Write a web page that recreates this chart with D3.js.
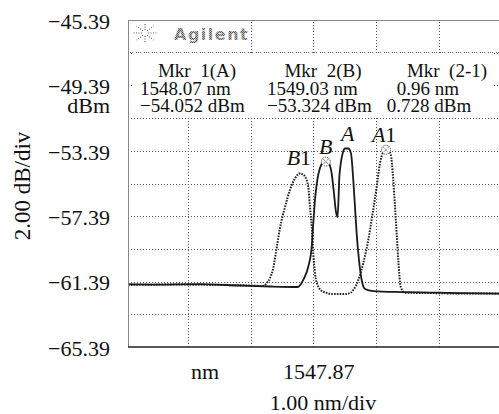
<!DOCTYPE html>
<html>
<head>
<meta charset="utf-8">
<script src="https://cdn.jsdelivr.net/npm/d3@7"></script>
<style>
	body { margin: 0; background: #fff; }
	svg { display: block; }
	text { font-family: "Liberation Serif", "DejaVu Serif", serif; fill: #111; }
</style>
</head>
<body>
<div id="chart-area"></div>
<script>
// spectrum (nm, dBm)
const wlAB = [1544.915, 1545.425, 1546.063, 1546.70, 1547.18, 1547.626, 1547.71, 1547.79, 1547.845,
	1547.87, 1547.897, 1547.934, 1547.977, 1548.025, 1548.07, 1548.109, 1548.163, 1548.20, 1548.232,
	1548.256, 1548.272, 1548.283, 1548.299, 1548.339, 1548.376, 1548.428, 1548.471, 1548.508, 1548.535,
	1548.562, 1548.599, 1548.642, 1548.695, 1548.827, 1549.28, 1549.731, 1550.21, 1550.832]
const dbAB = [-61.54, -61.57, -61.55, -61.63, -61.69, -61.72, -61.29, -60.48, -59.26,
	-57.82, -56.40, -55.18, -54.44, -54.11, -54.05, -54.11, -54.77, -55.99, -57.13,
	-57.44, -56.40, -55.18, -54.44, -53.54, -53.25, -53.25, -53.54, -55.18, -56.81,
	-58.44, -60.07, -61.29, -61.84, -61.97, -62.03, -62.06, -62.09, -62.12]

const wlB1A1 = [1544.915, 1545.585, 1546.382, 1546.86, 1547.052, 1547.127, 1547.18, 1547.232, 1547.286,
	1547.339, 1547.419, 1547.498, 1547.578, 1547.626, 1547.658, 1547.69, 1547.738, 1547.79, 1547.817,
	1547.845, 1547.87, 1547.897, 1547.95, 1548.03, 1548.189, 1548.376, 1548.471, 1548.508, 1548.588,
	1548.667, 1548.747, 1548.817, 1548.881, 1548.934, 1548.986, 1549.03, 1549.069, 1549.104, 1549.146,
	1549.173, 1549.20, 1549.226, 1549.264, 1549.332, 1549.731, 1550.21, 1550.832]
const dbB1A1 = [-61.60, -61.57, -61.60, -61.63, -61.66, -61.49, -61.17, -60.56, -59.33,
	-58.11, -56.83, -55.79, -55.07, -54.84, -54.77, -54.81, -54.97, -55.59, -56.81,
	-58.04, -59.66, -60.88, -61.70, -62.01, -62.15, -62.15, -62.06, -61.90, -61.29,
	-60.27, -58.85, -57.21, -55.59, -54.15, -53.46, -53.32, -53.37, -53.59, -55.18,
	-56.81, -58.44, -60.07, -61.70, -62.07, -62.09, -62.12, -62.12]

// axis labels / grid
const yTickValues = [-45.39, -49.39, -53.39, -57.39, -61.39, -65.39]
const yGridValues = [-63.39, -61.39, -59.39, -57.39, -55.39, -53.39, -51.39, -49.39, -47.39]
const xGridValues = [1545.87, 1546.87, 1547.87, 1548.87, 1549.87]
const xCenterLabel = [1547.87]

// markers and peak names
const markerWl = [1548.07, 1549.03]
const markerDb = [-54.052, -53.324]
const peakNames = ["B1", "B", "A", "A1"]
const peakWl = [1547.64, 1548.07, 1548.42, 1549.00]
const peakDb = [-54.77, -54.05, -53.25, -53.32]

const markerCols = [
	["Mkr  1(A)", "1548.07 nm", "\u221254.052 dBm"],
	["Mkr  2(B)", "1549.03 nm", "\u221253.324 dBm"],
	["Mkr  (2-1)", "0.96 nm", "0.728 dBm"]
]

const W = 499
const H = 414
const PLOT = { LEFT: 128, TOP: 20, RIGHT: 499, BOTTOM: 347 }

const svg = d3.select("#chart-area").append("svg")
	.attr("width", W)
	.attr("height", H)

svg.append("rect")
	.attr("width", W)
	.attr("height", H)
	.attr("fill", "#fff")

const defs = svg.append("defs")
defs.append("clipPath")
	.attr("id", "plot-clip")
	.append("rect")
	.attr("x", PLOT.LEFT)
	.attr("y", PLOT.TOP)
	.attr("width", PLOT.RIGHT - PLOT.LEFT)
	.attr("height", PLOT.BOTTOM - PLOT.TOP)

// checker pattern for the dotted "Agilent" logo
const hatch = defs.append("pattern")
	.attr("id", "hatch")
	.attr("width", 2)
	.attr("height", 2)
	.attr("patternUnits", "userSpaceOnUse")
hatch.append("rect").attr("width", 2).attr("height", 2).attr("fill", "#bbb")
hatch.append("rect").attr("width", 1).attr("height", 1).attr("fill", "#555")
hatch.append("rect").attr("x", 1).attr("y", 1).attr("width", 1).attr("height", 1).attr("fill", "#666")

// scales
const x = d3.scaleLinear().domain([1544.915, 1550.832]).range([PLOT.LEFT, PLOT.RIGHT])
const y = d3.scaleLinear().domain([-65.39, -45.39]).range([PLOT.BOTTOM, PLOT.TOP])

// grid
svg.append("g")
	.attr("class", "grid")
	.attr("transform", `translate(0, ${PLOT.BOTTOM})`)
	.call(d3.axisBottom(x)
		.tickValues(xGridValues)
		.tickSize(-(PLOT.BOTTOM - PLOT.TOP))
		.tickFormat(""))
svg.append("g")
	.attr("class", "grid")
	.attr("transform", `translate(${PLOT.LEFT}, 0)`)
	.call(d3.axisLeft(y)
		.tickValues(yGridValues)
		.tickSize(-(PLOT.RIGHT - PLOT.LEFT))
		.tickFormat(""))
svg.selectAll(".grid .domain").remove()
svg.selectAll(".grid line")
	.attr("stroke", "#555")
	.attr("stroke-dasharray", "1,2")
	.attr("shape-rendering", "crispEdges")

// traces
const line = d3.line()
	.x(d => x(d[0]))
	.y(d => y(d[1]))
	.curve(d3.curveMonotoneX)

const traces = svg.append("g").attr("clip-path", "url(#plot-clip)")
traces.append("path")
	.attr("d", line(d3.zip(wlB1A1, dbB1A1)))
	.attr("fill", "none")
	.attr("stroke", "#222")
	.attr("stroke-width", 2)
	.attr("stroke-dasharray", "1.6,1.2")
traces.append("path")
	.attr("d", line(d3.zip(wlAB, dbAB)))
	.attr("fill", "none")
	.attr("stroke", "#1a1a1a")
	.attr("stroke-width", 1.8)

// marker symbols
const mk = svg.append("g")
	.selectAll("g")
	.data(d3.zip(markerWl, markerDb))
	.join("g")
	.attr("transform", d => `translate(${x(d[0])}, ${y(d[1])})`)
mk.append("circle")
	.attr("r", 4.5)
	.attr("fill", "#fff")
	.attr("stroke", "#333")
	.attr("stroke-dasharray", "1,1")
mk.append("path")
	.attr("d", "M-2.5,-2.5L2.5,2.5M-2.5,2.5L2.5,-2.5")
	.attr("stroke", "#444")
	.attr("stroke-dasharray", "1,1")

// peak names
const peakText = svg.append("g")
	.selectAll("text")
	.data(d3.zip(peakNames, peakWl, peakDb))
	.join("text")
	.attr("x", d => x(d[1]))
	.attr("y", d => y(d[2]) - 8)
	.attr("text-anchor", "middle")
	.attr("font-size", "22px")
peakText.append("tspan")
	.attr("font-style", "italic")
	.text(d => d[0][0])
peakText.append("tspan")
	.text(d => d[0].slice(1))

// header strip with logo
svg.append("rect")
	.attr("x", PLOT.LEFT + 1)
	.attr("y", PLOT.TOP + 1)
	.attr("width", x(xGridValues[1]) - PLOT.LEFT - 2)
	.attr("height", 30)
	.attr("fill", "#fff")

const star = svg.append("g").attr("transform", "translate(145, 33)")
d3.range(8).forEach(i => {
	const a = i * Math.PI / 4
	star.append("line")
		.attr("x1", Math.cos(a) * 3)
		.attr("y1", Math.sin(a) * 3)
		.attr("x2", Math.cos(a) * 12)
		.attr("y2", Math.sin(a) * 10)
		.attr("stroke", "#666")
		.attr("stroke-width", 1.2)
		.attr("stroke-dasharray", "1,1.5")
})
svg.append("text")
	.attr("x", 174)
	.attr("y", 40)
	.style("font-family", "'DejaVu Sans', sans-serif")
	.style("font-weight", "bold")
	.style("font-size", "16px")
	.style("letter-spacing", "1.5px")
	.style("fill", "url(#hatch)")
	.text("Agilent")

// marker readout box
svg.append("rect")
	.attr("x", 134)
	.attr("y", 53)
	.attr("width", 359)
	.attr("height", 64)
	.attr("fill", "#fff")

svg.append("line")
	.attr("x1", PLOT.LEFT)
	.attr("x2", PLOT.RIGHT)
	.attr("y1", 52.5)
	.attr("y2", 52.5)
	.attr("stroke", "#666")
	.attr("stroke-dasharray", "1,1,1,1,1,3")

const colX = [
	[197, 140, 140],
	[323, 267, 267],
	[447, 428, 429]
]
const colAnchor = [
	["middle", "start", "start"],
	["middle", "start", "start"],
	["middle", "middle", "middle"]
]
const rowY = [77, 95, 112]
markerCols.forEach((col, i) => {
	col.forEach((t, j) => {
		svg.append("text")
			.attr("x", colX[i][j])
			.attr("y", rowY[j])
			.attr("text-anchor", colAnchor[i][j])
			.attr("font-size", "19px")
			.style("white-space", "pre")
			.text(t)
	})
})

// frame
svg.append("line")
	.attr("x1", PLOT.LEFT).attr("x2", PLOT.RIGHT)
	.attr("y1", PLOT.TOP + 0.5).attr("y2", PLOT.TOP + 0.5)
	.attr("stroke", "#888")
svg.append("line")
	.attr("x1", PLOT.LEFT + 0.5).attr("x2", PLOT.LEFT + 0.5)
	.attr("y1", PLOT.TOP).attr("y2", PLOT.BOTTOM)
	.attr("stroke", "#888")
svg.append("line")
	.attr("x1", PLOT.LEFT).attr("x2", PLOT.RIGHT)
	.attr("y1", PLOT.BOTTOM).attr("y2", PLOT.BOTTOM)
	.attr("stroke", "#222")
	.attr("stroke-width", 1.5)

// y tick labels
const yAxis = svg.append("g")
	.attr("transform", `translate(${PLOT.LEFT}, 0)`)
	.call(d3.axisLeft(y)
		.tickValues(yTickValues)
		.tickSize(0)
		.tickPadding(18)
		.tickFormat(d => d3.format(".2f")(d).replace("-", "\u2212")))
yAxis.select(".domain").remove()
yAxis.selectAll("text")
	.attr("font-family", "Liberation Serif")
	.attr("font-size", "22px")
	.attr("fill", "#111")
	.attr("dy", "0.38em")

svg.append("text")
	.attr("x", 110)
	.attr("y", 113)
	.attr("text-anchor", "end")
	.attr("font-size", "22px")
	.text("dBm")

svg.append("text")
	.attr("transform", "translate(30, 186) rotate(-90)")
	.attr("text-anchor", "middle")
	.attr("font-size", "23px")
	.text("2.00 dB/div")

// x labels
const xAxis = svg.append("g")
	.attr("transform", `translate(0, ${PLOT.BOTTOM})`)
	.call(d3.axisBottom(x)
		.tickValues(xCenterLabel)
		.tickSize(0)
		.tickPadding(0)
		.tickFormat(d3.format(".2f")))
xAxis.select(".domain").remove()
xAxis.selectAll("text")
	.attr("font-family", "Liberation Serif")
	.attr("font-size", "22px")
	.attr("fill", "#111")
	.attr("dx", 5)
	.attr("y", 32)
	.attr("dy", 0)

svg.append("text")
	.attr("x", 205)
	.attr("y", 379)
	.attr("text-anchor", "middle")
	.attr("font-size", "22px")
	.text("nm")

svg.append("text")
	.attr("x", 323)
	.attr("y", 410)
	.attr("text-anchor", "middle")
	.attr("font-size", "22px")
	.text("1.00 nm/div")
</script>
</body>
</html>
